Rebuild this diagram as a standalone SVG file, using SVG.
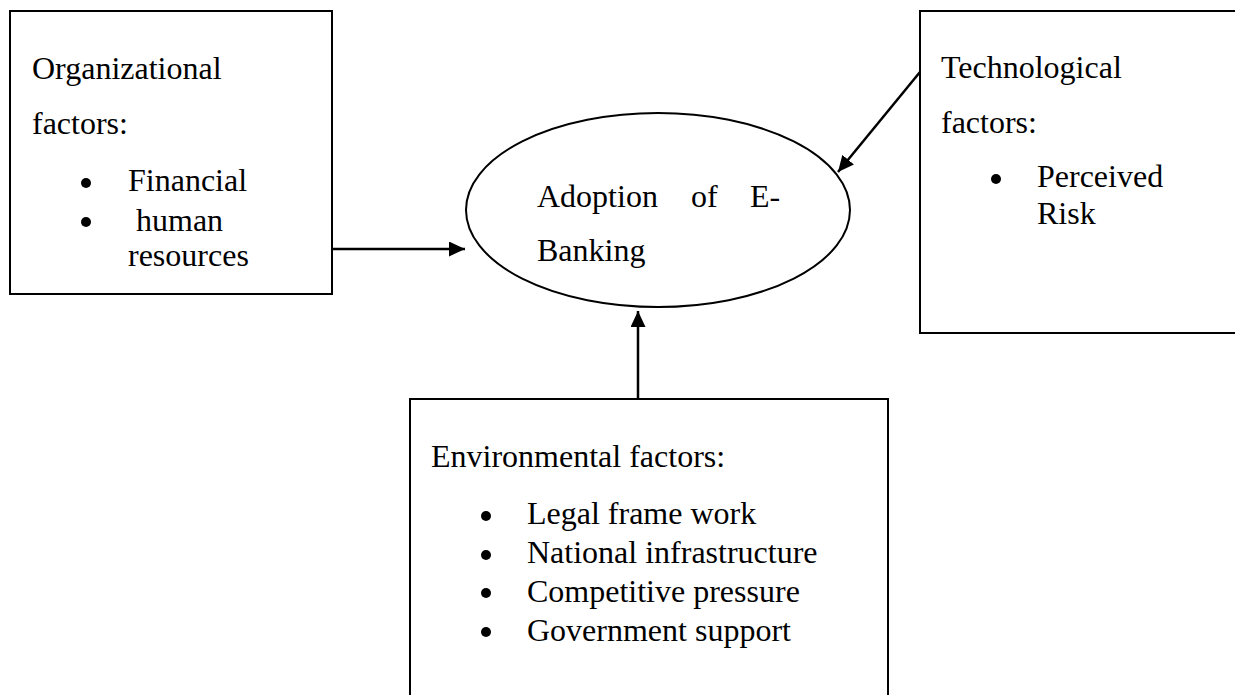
<svg xmlns="http://www.w3.org/2000/svg" width="1235" height="695" viewBox="0 0 1235 695">
<style>
.box{fill:#fff;stroke:#000;stroke-width:2}
.t{font-family:"Liberation Serif","Times New Roman",serif;font-size:32px;fill:#000}
.b{fill:#000}
.c{stroke:#000;stroke-width:2.5;fill:none}
</style>
<defs>
<marker id="ah" viewBox="0 0 16 15" refX="16" refY="7.5" markerWidth="16" markerHeight="15" markerUnits="userSpaceOnUse" orient="auto">
<path d="M0,0 L16,7.5 L0,15 Z" fill="#000"/>
</marker>
</defs>
<rect width="1235" height="695" fill="#fff"/>
<g id="connectors">
<line class="c" x1="333" y1="249" x2="465" y2="249" marker-end="url(#ah)"/>
<line class="c" x1="920" y1="72" x2="838" y2="172" marker-end="url(#ah)"/>
<line class="c" x1="638" y1="399" x2="638" y2="311" marker-end="url(#ah)"/>
</g>
<g id="organizational">
<rect class="box" x="10" y="11" width="322" height="283"/>
<text class="t" x="32" y="79">Organizational</text>
<text class="t" x="32" y="134">factors:</text>
<circle class="b" cx="86" cy="183" r="5"/>
<text class="t" x="128" y="191">Financial</text>
<circle class="b" cx="86" cy="222" r="5"/>
<text class="t" x="136" y="231">human</text>
<text class="t" x="128" y="266">resources</text>
</g>
<g id="adoption">
<ellipse cx="658" cy="210" rx="192" ry="97" fill="#fff" stroke="#000" stroke-width="2"/>
<text class="t" x="537" y="207">Adoption</text>
<text class="t" x="691" y="207">of</text>
<text class="t" x="750" y="207">E-</text>
<text class="t" x="537" y="261">Banking</text>
</g>
<g id="technological">
<rect class="box" x="920" y="11" width="330" height="322"/>
<text class="t" x="941" y="78">Technological</text>
<text class="t" x="941" y="133">factors:</text>
<circle class="b" cx="996" cy="179" r="5"/>
<text class="t" x="1037" y="187">Perceived</text>
<text class="t" x="1037" y="224">Risk</text>
</g>
<g id="environmental">
<rect class="box" x="410" y="399" width="478" height="320"/>
<text class="t" x="431" y="467">Environmental factors:</text>
<circle class="b" cx="486" cy="516" r="5"/>
<text class="t" x="527" y="524">Legal frame work</text>
<circle class="b" cx="486" cy="555" r="5"/>
<text class="t" x="527" y="563">National infrastructure</text>
<circle class="b" cx="486" cy="593" r="5"/>
<text class="t" x="527" y="602">Competitive pressure</text>
<circle class="b" cx="486" cy="632" r="5"/>
<text class="t" x="527" y="641">Government support</text>
</g>
</svg>
